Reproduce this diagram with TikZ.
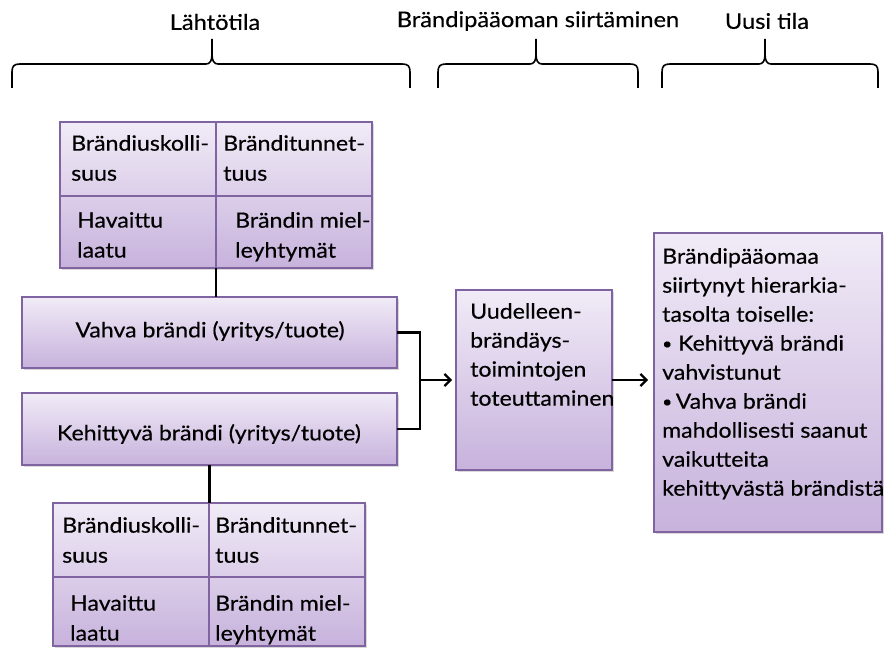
\documentclass[tikz,border=0pt]{standalone}
\usepackage{graphicx}
\usepackage{fontspec}
\setmainfont{Lato}[FakeStretch=1.1,FakeBold=0.4]
\usetikzlibrary{shadows,arrows.meta}
\definecolor{boxline}{HTML}{8064A2}
\definecolor{boxtop}{HTML}{F1EBF7}
\definecolor{boxbot}{HTML}{C7B2DC}
\newcommand{\smallbullet}{\raisebox{1.5pt}{\scalebox{0.75}{\textbullet}}}
% curly brace whose cusp sits at x = #2
\newcommand{\topbrace}[3]{%
  \draw[brace] (#1,88) -- (#1,72) .. controls (#1,66) and (#1+2,64) .. (#1+8,64)
    -- (#2-6,64) .. controls (#2-2,64) and (#2,61) .. (#2,54) -- (#2,39);
  \draw[brace] (#2,54) .. controls (#2,61) and (#2+2,64) .. (#2+6,64)
    -- (#3-8,64) .. controls (#3-2,64) and (#3,66) .. (#3,72) -- (#3,88);}
\begin{document}
\begin{tikzpicture}[x=1pt,y=-1pt,
  panel/.style={draw=boxline, line width=2pt, top color=boxtop, bottom color=boxbot,
    inner sep=0pt, outer sep=0pt, anchor=north west,
    drop shadow={shadow xshift=1.5pt, shadow yshift=-2pt, opacity=0.3}},
  divider/.style={draw=boxline, line width=1.5pt},
  celltext/.style={anchor=north west, inner sep=0pt, align=left,
    font=\fontsize{21}{30}\selectfont},
  boxtext/.style={anchor=north west, inner sep=0pt, align=left,
    font=\fontsize{21}{29}\selectfont},
  heading/.style={font=\fontsize{21.5}{25}\selectfont, inner sep=0pt},
  brace/.style={line width=1.6pt},
  link/.style={line width=2.3pt},
  arrowlink/.style={link, -{Straight Barb[length=6pt,width=12pt,line width=2.3pt]}}]
\useasboundingbox (0,0) rectangle (885,650);

% column headings
\node[heading] (h1) at (215,22) {Lähtötila};
\node[heading] (h2) at (538,21) {Brändipääoman siirtäminen};
\node[heading] (h3) at (767,21) {Uusi tila};

% curly braces under the headings
\topbrace{12}{212}{410}
\topbrace{438}{536}{638}
\topbrace{662}{765}{878}

% upper dimension grid
\node[panel, minimum width=312pt, minimum height=146pt] (g1) at (60,122) {};
\draw[divider] (216,122) -- (216,268);
\draw[divider] (60,196) -- (372,196);
\node[celltext] (g1a) at (71,135) {Brändiuskolli-\\suus};
\node[celltext] (g1b) at (223,135) {Bränditunnet-\\tuus};
\node[celltext] (g1c) at (77,212) {Havaittu\\laatu};
\node[celltext] (g1d) at (235,212) {Brändin miel-\\leyhtymät};

% brand boxes
\node[panel, minimum width=375pt, minimum height=71pt] (vahva) at (22,297) {};
\node[font=\fontsize{21}{25}\selectfont, inner sep=0pt] (vahvat) at (210,331) {Vahva brändi (yritys/tuote)};
\node[panel, minimum width=375pt, minimum height=72pt] (keh) at (22,393) {};
\node[font=\fontsize{21}{25}\selectfont, inner sep=0pt] (keht) at (209,434) {Kehittyvä brändi (yritys/tuote)};

% lower dimension grid
\node[panel, minimum width=312pt, minimum height=143pt] (g2) at (53,503) {};
\draw[divider] (209,503) -- (209,646);
\draw[divider] (53,577) -- (365,577);
\node[celltext] (g2a) at (62,517) {Brändiuskolli-\\suus};
\node[celltext] (g2b) at (215,517) {Bränditunnet-\\tuus};
\node[celltext] (g2c) at (70,595) {Havaittu\\laatu};
\node[celltext] (g2d) at (215,595) {Brändin miel-\\leyhtymät};

% transfer and result boxes
\node[panel, minimum width=156pt, minimum height=180pt] (mid) at (456,290) {};
\node[boxtext] (midt) at (470,303) {Uudelleen-\\brändäys-\\toimintojen\\toteuttaminen};
\node[panel, minimum width=228pt, minimum height=299pt] (res) at (654,233) {};
\node[boxtext] (rest) at (662,248) {Brändipääomaa\\siirtynyt hierarkia-\\tasolta toiselle:\\%
  \smallbullet\ Kehittyvä brändi\\vahvistunut\\\smallbullet\,Vahva brändi\\%
  mahdollisesti saanut\\vaikutteita\\kehittyvästä brändistä};

% connectors
\draw[link] (g1.south) -- (g1.south |- vahva.north);
\draw[link] (keh.south) -- (keh.south |- g2.north);
\draw[link] (vahva.east) -- ++(23,0) coordinate (jtop) |- (keh.east);
\coordinate (join) at (jtop |- mid.west);
\draw[arrowlink, shorten >=4pt] (join) -- (mid.west);
\draw[arrowlink, shorten >=6pt] (mid.east) -- (mid.east -| res.west);
\end{tikzpicture}
\end{document}
